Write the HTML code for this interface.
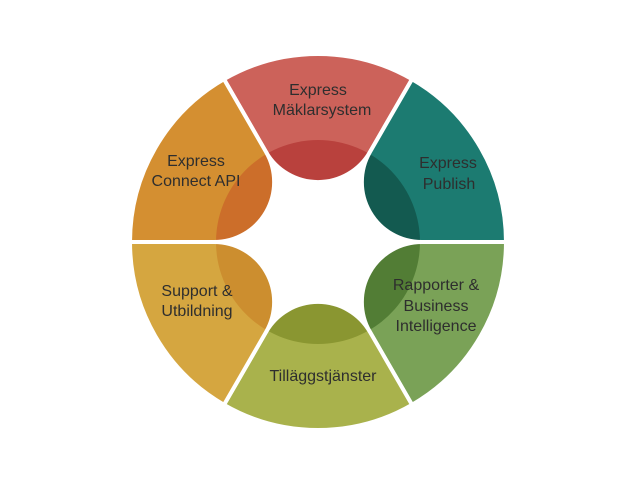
<!DOCTYPE html>
<html><head><meta charset="utf-8"><style>
html,body{margin:0;padding:0;background:#fff;}
svg{display:block;}
text{font-family:"Liberation Sans",sans-serif;font-size:16px;fill:#2e2e2e;text-anchor:middle;}
</style></head><body>
<svg width="636" height="477" viewBox="0 0 636 477">
<defs>
<path id="seg" d="M -94 -162.8 A 188 188 0 0 1 94 -162.8 L 52 -90 A 60 60 0 0 1 -52 -90 Z"/>
<clipPath id="dk"><circle cx="0" cy="0" r="102"/></clipPath>
</defs>
<g transform="translate(318,242)">
  <g>
    <use href="#seg" fill="#cc625a"/>
    <use href="#seg" fill="#b9413d" clip-path="url(#dk)"/>
    <use href="#seg" fill="none" stroke="#fff" stroke-width="4"/>
  </g>
  <g transform="rotate(60)">
    <use href="#seg" fill="#1c7b71"/>
    <use href="#seg" fill="#135a50" clip-path="url(#dk)"/>
    <use href="#seg" fill="none" stroke="#fff" stroke-width="4"/>
  </g>
  <g transform="rotate(120)">
    <use href="#seg" fill="#7aa257"/>
    <use href="#seg" fill="#527d35" clip-path="url(#dk)"/>
    <use href="#seg" fill="none" stroke="#fff" stroke-width="4"/>
  </g>
  <g transform="rotate(180)">
    <use href="#seg" fill="#a9b24c"/>
    <use href="#seg" fill="#8a9631" clip-path="url(#dk)"/>
    <use href="#seg" fill="none" stroke="#fff" stroke-width="4"/>
  </g>
  <g transform="rotate(240)">
    <use href="#seg" fill="#d5a640"/>
    <use href="#seg" fill="#cc8e2f" clip-path="url(#dk)"/>
    <use href="#seg" fill="none" stroke="#fff" stroke-width="4"/>
  </g>
  <g transform="rotate(300)">
    <use href="#seg" fill="#d48f31"/>
    <use href="#seg" fill="#cc6e2a" clip-path="url(#dk)"/>
    <use href="#seg" fill="none" stroke="#fff" stroke-width="4"/>
  </g>
</g>
<text x="318" y="95">Express</text>
<text x="322" y="115">Mäklarsystem</text>
<text x="448" y="168">Express</text>
<text x="449" y="189">Publish</text>
<text x="436" y="290">Rapporter &amp;</text>
<text x="436" y="311">Business</text>
<text x="436" y="331">Intelligence</text>
<text x="323" y="381">Tilläggstjänster</text>
<text x="197" y="296">Support &amp;</text>
<text x="197" y="316">Utbildning</text>
<text x="196" y="166">Express</text>
<text x="196" y="186">Connect API</text>
</svg>
</body></html>
